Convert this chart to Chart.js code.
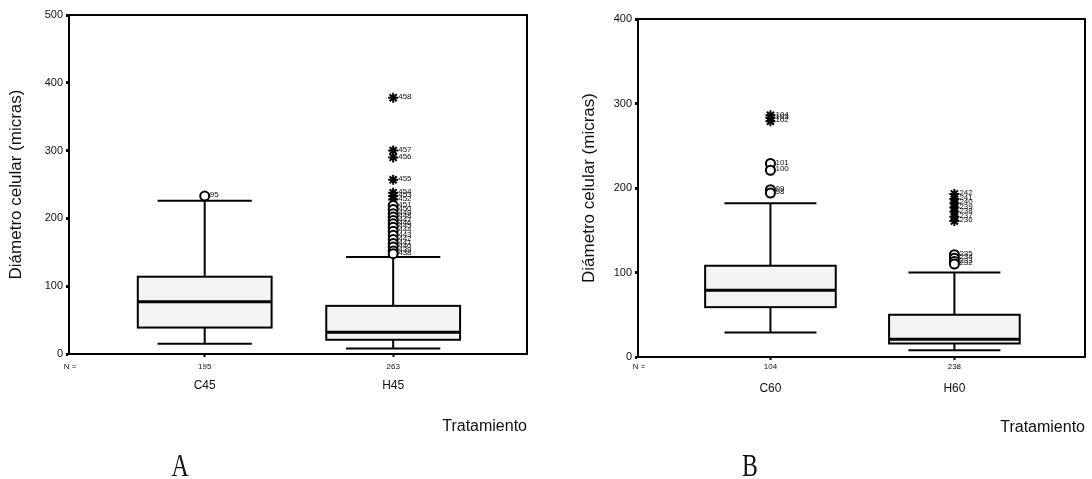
<!DOCTYPE html>
<html>
<head>
<meta charset="utf-8">
<script src="https://cdn.jsdelivr.net/npm/chart.js@4.4.0/dist/chart.umd.min.js"></script>
<style>
  html, body { margin: 0; padding: 0; background: #fff; }
  body { width: 1092px; height: 479px; position: relative; overflow: hidden; }
  .panel { position: absolute; top: 0; width: 546px; height: 479px; }
  .tag { position: absolute; top: 452px; font-family: "Liberation Serif", "Times New Roman", serif;
         font-size: 28px; color: #111; line-height: 1;
         transform: translateX(-50%) scale(0.85, 1.15); transform-origin: 50% 50%; }
</style>
</head>
<body>
<div class="panel" style="left:0"><canvas id="chartA"></canvas></div>
<div class="panel" style="left:546px"><canvas id="chartB"></canvas></div>
<div class="tag" style="left:180px">A</div>
<div class="tag" style="left:750px">B</div>
<script>
// --- panel A: 45 ---
const catsA = ['C45', 'H45'];
const countsA = [195, 263];
const lowA = [15, 8];
const q1A = [39, 21];
const medA = [77, 32];
const q3A = [114, 71];
const highA = [226, 143];
const outA = [[233], [219, 213, 207, 202, 197, 192, 187, 181, 175, 169, 163, 158, 152, 148]];
const outIdA = [[95], [451, 450, 449, 448, 447, 446, 445, 444, 443, 442, 441, 440, 439, 438]];
const extA = [[], [378, 300, 290, 257, 238, 233, 228]];
const extIdA = [[], [458, 457, 456, 455, 454, 453, 452]];
const yTicksA = [0, 100, 200, 300, 400, 500];

// --- panel B: 60 ---
const catsB = ['C60', 'H60'];
const countsB = [104, 238];
const lowB = [29, 8];
const q1B = [59, 16];
const medB = [79, 21];
const q3B = [108, 50];
const highB = [182, 100];
const outB = [[229, 221, 198, 194], [121, 117, 113, 110]];
const outIdB = [[101, 100, 99, 98], [235, 234, 233, 232]];
const extB = [[286, 283, 279], [193, 187, 182, 177, 172, 166, 161]];
const extIdB = [[104, 103, 102], [242, 241, 240, 239, 238, 237, 236]];
const yTicksB = [0, 100, 200, 300, 400];

Chart.defaults.font.family = "'Liberation Sans', Arial, sans-serif";
Chart.defaults.color = '#111';

function pointsOf(groups) {
  return groups.flatMap((vals, i) => vals.map(v => ({ x: i + 1, y: v })));
}

// boxes, whiskers and caps are drawn off the chart's own scales
const boxPlot = {
  id: 'boxPlot',
  beforeDatasetsDraw(chart, args, o) {
    const { ctx, scales: { x, y } } = chart;
    const px = v => x.getPixelForValue(v);
    const py = v => y.getPixelForValue(v);
    ctx.save();
    ctx.strokeStyle = '#000';
    o.cats.forEach((c, i) => {
      const cx = px(i + 1);
      const bl = px(i + 1 - 0.355), br = px(i + 1 + 0.355);
      const cl = px(i + 1 - 0.25), cr = px(i + 1 + 0.25);
      ctx.lineWidth = 2;
      ctx.beginPath();
      ctx.moveTo(cx, py(o.q3[i])); ctx.lineTo(cx, py(o.high[i]));
      ctx.moveTo(cx, py(o.q1[i])); ctx.lineTo(cx, py(o.low[i]));
      ctx.moveTo(cl, py(o.high[i])); ctx.lineTo(cr, py(o.high[i]));
      ctx.moveTo(cl, py(o.low[i])); ctx.lineTo(cr, py(o.low[i]));
      ctx.stroke();
      ctx.fillStyle = '#f4f4f4';
      ctx.fillRect(bl, py(o.q3[i]), br - bl, py(o.q1[i]) - py(o.q3[i]));
      ctx.strokeRect(bl, py(o.q3[i]), br - bl, py(o.q1[i]) - py(o.q3[i]));
      ctx.lineWidth = 3;
      ctx.beginPath();
      ctx.moveTo(bl, py(o.med[i])); ctx.lineTo(br, py(o.med[i]));
      ctx.stroke();
    });
    ctx.restore();
  },
  afterDatasetsDraw(chart, args, o) {
    const { ctx, scales: { x, y } } = chart;
    ctx.save();
    ctx.fillStyle = '#111';
    ctx.font = "8px 'Liberation Sans', Arial, sans-serif";
    ctx.textBaseline = 'middle';
    [[o.out, o.outId], [o.ext, o.extId]].forEach(([vals, ids]) => {
      vals.forEach((arr, i) => arr.forEach((v, k) => {
        ctx.fillText(String(ids[i][k]), x.getPixelForValue(i + 1) + 5, y.getPixelForValue(v) - 1);
      }));
    });
    // plot frame and the "N =" lead-in
    const a = chart.chartArea;
    ctx.strokeStyle = '#000';
    ctx.lineWidth = 2;
    ctx.strokeRect(a.left, a.top, a.right - a.left, a.bottom - a.top);
    ctx.textAlign = 'center';
    ctx.fillText('N =', a.left + 1, x.top + 3 + o.nPad + 5);
    ctx.restore();
  }
};

function makePanel(id, d) {
  const fixTicks = s => { s.ticks = d.cats.map((c, i) => ({ value: i + 1 })); };
  new Chart(document.getElementById(id), {
    type: 'scatter',
    data: {
      datasets: [
        { data: pointsOf(d.out), pointStyle: 'circle', pointRadius: 4.5, borderWidth: 2,
          borderColor: '#000', backgroundColor: '#fff' },
        { data: pointsOf(d.ext), pointStyle: 'star', pointRadius: 5, borderWidth: 2,
          borderColor: '#000', backgroundColor: '#000' }
      ]
    },
    options: {
      responsive: true,
      maintainAspectRatio: false,
      animation: false,
      events: [],
      layout: { padding: d.pad },
      plugins: { legend: { display: false }, tooltip: { enabled: false }, boxPlot: d },
      scales: {
        x: {
          type: 'linear', min: 0.28, max: 2.71,
          afterBuildTicks: fixTicks,
          afterFit(s) { s.height = 18; },
          ticks: { callback: v => d.counts[v - 1], font: { size: 8 }, padding: d.nPad, maxRotation: 0 },
          grid: { drawOnChartArea: false, tickLength: 3, tickWidth: 2, tickColor: '#000' },
          border: { color: '#000', width: 2 }
        },
        x2: {
          type: 'linear', position: 'bottom', weight: 1, min: 0.28, max: 2.71,
          afterBuildTicks: fixTicks,
          afterFit(s) { s.height = 68; },
          ticks: { callback: v => d.cats[v - 1], font: { size: 12 }, padding: 6, maxRotation: 0 },
          grid: { display: false, drawTicks: false },
          border: { display: false },
          title: { display: true, text: 'Tratamiento', align: 'end', font: { size: 16 },
                   padding: { top: 0, bottom: d.titlePad } }
        },
        y: {
          min: 0, max: d.yTicks[d.yTicks.length - 1],
          afterBuildTicks(s) { s.ticks = d.yTicks.map(v => ({ value: v })); },
          afterFit(s) { s.width = d.axisW; },
          ticks: { font: { size: 11 }, padding: 3 },
          grid: { drawOnChartArea: false, tickLength: 3, tickWidth: 3, tickColor: '#000' },
          border: { color: '#000', width: 2 },
          title: { display: true, text: 'Diámetro celular (micras)', font: { size: 17 },
                   padding: { top: d.yTitlePad, bottom: 0 } }
        }
      }
    },
    plugins: [boxPlot]
  });
}

makePanel('chartA', {
  cats: catsA, counts: countsA, low: lowA, q1: q1A, med: medA, q3: q3A, high: highA,
  out: outA, outId: outIdA, ext: extA, extId: extIdA, yTicks: yTicksA,
  pad: { left: 0, right: 19, top: 15, bottom: 39 }, axisW: 69, yTitlePad: 6, nPad: 5, titlePad: 4
});
makePanel('chartB', {
  cats: catsB, counts: countsB, low: lowB, q1: q1B, med: medB, q3: q3B, high: highB,
  out: outB, outId: outIdB, ext: extB, extId: extIdB, yTicks: yTicksB,
  pad: { left: 0, right: 2, top: 19, bottom: 36 }, axisW: 92, yTitlePad: 33, nPad: 2, titlePad: 6
});
</script>
</body>
</html>
